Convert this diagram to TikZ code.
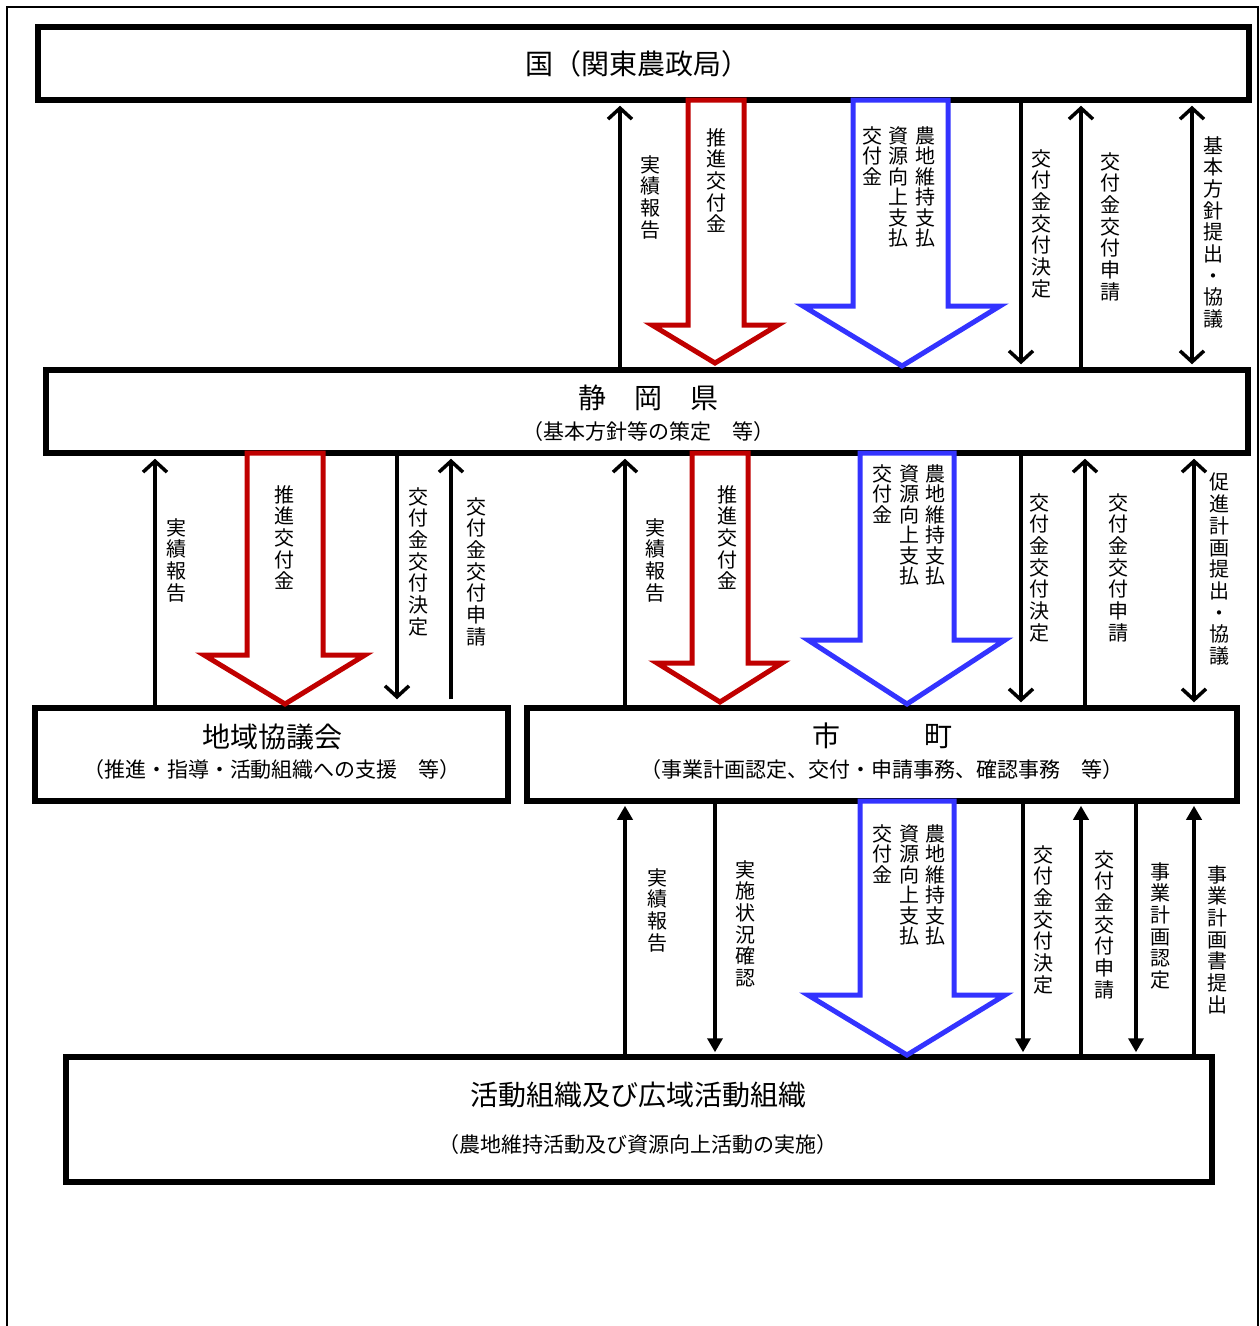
\documentclass[tikz,border=0pt]{standalone}
\usepackage{fontspec}
\setmainfont{Noto Sans CJK JP}
\usetikzlibrary{arrows.meta}
\definecolor{rarr}{HTML}{C00000}
\definecolor{barr}{HTML}{3333FF}
\begin{document}
\begin{tikzpicture}[x=1pt,y=-1pt,
  box/.style={draw, line width=5.5pt, inner sep=0pt, fill=white},
  con/.style={line width=3.5pt},
  oup/.style={con, -{Straight Barb[length=11pt,width=24pt]}, shorten >=3pt},
  odbl/.style={con, {Straight Barb[length=11pt,width=24pt]}-{Straight Barb[length=11pt,width=24pt]}, shorten >=3pt, shorten <=3pt},
  fup/.style={con, -{Triangle[length=14pt,width=15pt]}, shorten >=2pt},
  vt/.style={align=center, inner sep=0pt, anchor=north, font=\fontsize{20}{21.7}\selectfont},
  vtb/.style={align=center, inner sep=0pt, anchor=north, font=\fontsize{20}{20.5}\selectfont},
  ttl/.style={inner sep=0pt, font=\fontsize{28}{32}\selectfont},
  sub/.style={inner sep=0pt, font=\fontsize{21}{24}\selectfont},
  rblk/.style={draw=rarr, line width=5pt, fill=white, line join=miter},
  bblk/.style={draw=barr, line width=5pt, fill=white, line join=miter},
  frame/.style={line width=2.5pt}
]
\useasboundingbox (0,0) rectangle (1260,1326);
% outer frame
\draw[frame] (7,1326) -- (7,7) -- (1258,7) -- (1258,1326);

% boxes
\node[box, minimum width=1211pt, minimum height=73pt] (kuni) at (643.5,63.5) {};
\node[box, minimum width=1202pt, minimum height=83pt] (ken) at (647,411.5) {};
\node[box, minimum width=473pt, minimum height=93pt] (kyo) at (271.5,754.5) {};
\node[box, minimum width=710pt, minimum height=93pt] (shi) at (882,754.5) {};
\node[box, minimum width=1146pt, minimum height=125pt] (kat) at (639,1119.5) {};

% box texts
\node[ttl] (kuniT) at (637,64) {国（関東農政局）};
\node[ttl] (kenT) at (648,398) {静　岡　県};
\node[sub] (kenS) at (648,432) {（基本方針等の策定　等）};
\node[ttl] (kyoT) at (272,737) {地域協議会};
\node[sub] (kyoS) at (272,770) {（推進・指導・活動組織への支援　等）};
\node[ttl] (shiT) at (882,736) {市　　　町};
\node[sub] (shiS) at (882,770) {（事業計画認定、交付・申請事務、確認事務　等）};
\node[ttl] (katT) at (638,1095) {活動組織及び広域活動組織};
\node[sub] (katS) at (638,1145) {（農地維持活動及び資源向上活動の実施）};

% ---------- top layer: kuni <-> ken ----------
\draw[oup] (ken.north -| 620,0) -- (kuni.south -| 620,0);
\draw[oup] (kuni.south -| 1021,0) -- (ken.north -| 1021,0);
\draw[oup] (ken.north -| 1081,0) -- (kuni.south -| 1081,0);
\draw[odbl] (ken.north -| 1192,0) -- (kuni.south -| 1192,0);
\draw[rblk] (688,100) -- (688,325) -- (652,325) -- (715,363) -- (778,325) -- (744,325) -- (744,100) -- cycle;
\draw[bblk] (853,100) -- (853,306) -- (803,306) -- (902,366) -- (1000,306) -- (948,306) -- (948,100) -- cycle;

\node[vt] (t1) at (650,155) {実\\績\\報\\告};
\node[vt] (t2) at (716,128) {推\\進\\交\\付\\金};
\node[vtb] (t3a) at (925,126) {農\\地\\維\\持\\支\\払};
\node[vtb] (t3b) at (898,126) {資\\源\\向\\上\\支\\払};
\node[vtb] (t3c) at (872,126) {交\\付\\金};
\node[vt] (t4) at (1041,149) {交\\付\\金\\交\\付\\決\\定};
\node[vt] (t5) at (1110,152) {交\\付\\金\\交\\付\\申\\請};
\node[vt] (t6) at (1213,136) {基\\本\\方\\針\\提\\出\\・\\協\\議};

% ---------- middle layer left: ken <-> kyo ----------
\draw[oup] (kyo.north -| 155,0) -- (ken.south -| 155,0);
\draw[oup, shorten >=6pt] (ken.south -| 397,0) -- (kyo.north -| 397,0);
\draw[oup, shorten <=6pt] (kyo.north -| 451,0) -- (ken.south -| 451,0);
\draw[rblk] (247,453) -- (247,655) -- (204,655) -- (285,704) -- (365,655) -- (323,655) -- (323,453) -- cycle;

\node[vt] (m1) at (176,518) {実\\績\\報\\告};
\node[vt] (m2) at (284,485) {推\\進\\交\\付\\金};
\node[vt] (m3) at (418,487) {交\\付\\金\\交\\付\\決\\定};
\node[vt] (m4) at (476,497) {交\\付\\金\\交\\付\\申\\請};

% ---------- middle layer right: ken <-> shi ----------
\draw[oup] (shi.north -| 625,0) -- (ken.south -| 625,0);
\draw[oup] (ken.south -| 1021,0) -- (shi.north -| 1021,0);
\draw[oup] (shi.north -| 1085,0) -- (ken.south -| 1085,0);
\draw[odbl] (shi.north -| 1194,0) -- (ken.south -| 1194,0);
\draw[rblk] (692,453) -- (692,663) -- (657,663) -- (720,702) -- (782,663) -- (748,663) -- (748,453) -- cycle;
\draw[bblk] (860,453) -- (860,640) -- (808,640) -- (907,704) -- (1005,640) -- (954,640) -- (954,453) -- cycle;

\node[vt] (n1) at (655,518) {実\\績\\報\\告};
\node[vt] (n2) at (727,485) {推\\進\\交\\付\\金};
\node[vtb] (n3a) at (935,464) {農\\地\\維\\持\\支\\払};
\node[vtb] (n3b) at (909,464) {資\\源\\向\\上\\支\\払};
\node[vtb] (n3c) at (882,464) {交\\付\\金};
\node[vt] (n4) at (1039,493) {交\\付\\金\\交\\付\\決\\定};
\node[vt] (n5) at (1118,493) {交\\付\\金\\交\\付\\申\\請};
\node[vt] (n6) at (1219,473) {促\\進\\計\\画\\提\\出\\・\\協\\議};

% ---------- bottom layer: shi <-> kat ----------
\draw[fup] (kat.north -| 625,0) -- (shi.south -| 625,0);
\draw[fup] (shi.south -| 715,0) -- (kat.north -| 715,0);
\draw[fup] (shi.south -| 1023,0) -- (kat.north -| 1023,0);
\draw[fup] (kat.north -| 1081,0) -- (shi.south -| 1081,0);
\draw[fup] (shi.south -| 1136,0) -- (kat.north -| 1136,0);
\draw[fup] (kat.north -| 1194,0) -- (shi.south -| 1194,0);
\draw[bblk] (860,801) -- (860,995) -- (808,995) -- (907,1055) -- (1005,995) -- (954,995) -- (954,801) -- cycle;

\node[vt] (b1) at (657,868) {実\\績\\報\\告};
\node[vt] (b2) at (745,860) {実\\施\\状\\況\\確\\認};
\node[vtb] (b3a) at (935,824) {農\\地\\維\\持\\支\\払};
\node[vtb] (b3b) at (909,824) {資\\源\\向\\上\\支\\払};
\node[vtb] (b3c) at (882,824) {交\\付\\金};
\node[vt] (b4) at (1043,845) {交\\付\\金\\交\\付\\決\\定};
\node[vt] (b5) at (1104,850) {交\\付\\金\\交\\付\\申\\請};
\node[vt] (b6) at (1160,862) {事\\業\\計\\画\\認\\定};
\node[vt] (b7) at (1217,865) {事\\業\\計\\画\\書\\提\\出};
\end{tikzpicture}
\end{document}
